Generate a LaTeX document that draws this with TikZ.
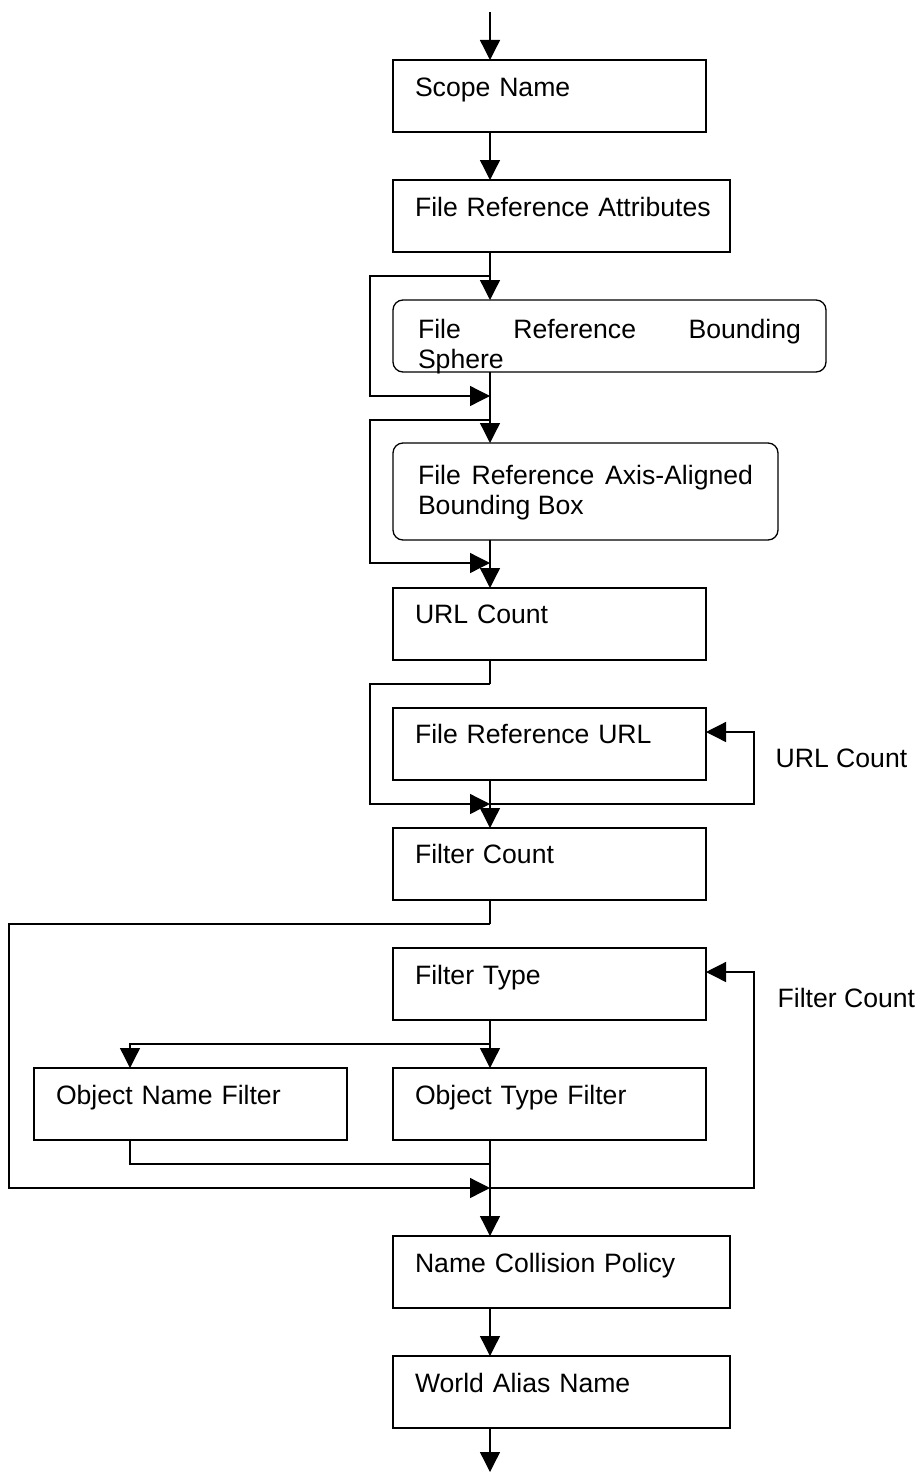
\documentclass[tikz,border=0pt]{standalone}
\usepackage{fontspec}
\setmainfont{Liberation Sans}
\usetikzlibrary{arrows.meta}
\begin{document}
\begin{tikzpicture}[x=1pt,y=-1pt,line width=1.3pt,
  box/.style={draw,anchor=north west,inner xsep=22pt,inner ysep=0pt,outer sep=0pt,
    text height=36pt,text depth=36pt,align=left,font=\fontsize{26.6}{30}\selectfont},
  roundbox/.style={box,rounded corners=10pt,align=justify,inner xsep=25pt},
  flow/.style={-{Triangle[length=20pt,width=20pt]}},
  lbl/.style={anchor=base west,inner sep=0pt,font=\fontsize{26.6}{30}\selectfont}]
\useasboundingbox (0,0) rectangle (915,1472);
\coordinate (top) at (490,12);
\coordinate (bot) at (490,1472);
\node[box,text width=269pt](scope) at (393,60){Scope Name};
\node[box,text width=293pt](attrs) at (393,180){\mbox{File Reference Attributes}};
\node[roundbox,text width=383pt,text height=38pt,text depth=34pt](sphere) at (393,300){File Reference Bounding\linebreak Sphere};
\node[roundbox,text width=335pt,text height=41pt,text depth=56pt](aabb) at (393,443){File Reference Axis-Aligned\linebreak Bounding Box};
\node[box,text width=269pt,text height=35pt,text depth=37pt](urlcount) at (393,588){URL Count};
\node[box,text width=269pt,text height=35pt,text depth=37pt](fileurl) at (393,708){File Reference URL};
\node[box,text width=269pt,text height=35pt,text depth=37pt](filtercount) at (393,828){Filter Count};
\node[box,text width=269pt](filtertype) at (393,948){Filter Type};
\node[box,text width=269pt](namefilter) at (34,1068){Object Name Filter};
\node[box,text width=269pt](typefilter) at (393,1068){Object Type Filter};
\node[box,text width=293pt](collision) at (393,1236){Name Collision Policy};
\node[box,text width=293pt](alias) at (393,1356){World Alias Name};
\node[lbl](urllbl) at (775,767){URL Count};
\node[lbl](filterlbl) at (777,1007){Filter Count};
\coordinate (j1) at (490,276);
\coordinate (m1) at (490,396);
\coordinate (j2) at (490,420);
\coordinate (m2) at (490,563);
\coordinate (j3) at (490,684);
\coordinate (m3) at (490,804);
\coordinate (j4) at (490,924);
\coordinate (split) at (490,1044);
\coordinate (merge) at (490,1164);
\coordinate (m4) at (490,1188);
\draw[flow](top)--(top|-scope.north);
\draw[flow](top|-scope.south)--(top|-attrs.north);
\draw[flow](top|-attrs.south)--(top|-sphere.north);
\draw[flow](j1)--++(-120,0)|-(m1);
\draw[flow](top|-sphere.south)--(top|-aabb.north);
\draw[flow](j2)--++(-120,0)|-(m2);
\draw[flow](top|-aabb.south)--(top|-urlcount.north);
\draw(top|-urlcount.south)--(j3);
\draw[flow](j3)--++(-120,0)|-(m3);
\draw(top|-fileurl.south)--(m3);
\draw[flow](m3)--++(264,0)|-([yshift=12pt]fileurl.east);
\draw[flow](m3)--(top|-filtercount.north);
\draw(top|-filtercount.south)--(j4);
\draw[flow](j4)--++(-481,0)|-(m4);
\draw[flow](m4)--++(264,0)|-([yshift=12pt]filtertype.east);
\draw(top|-filtertype.south)--(split);
\draw[flow](split)--(top|-typefilter.north);
\draw[flow](split)-|([xshift=96pt]namefilter.north west);
\draw([xshift=96pt]namefilter.south west)|-(merge);
\draw[flow](top|-typefilter.south)--(top|-collision.north);
\draw[flow](top|-collision.south)--(top|-alias.north);
\draw[flow](top|-alias.south)--(bot);
\end{tikzpicture}
\end{document}
